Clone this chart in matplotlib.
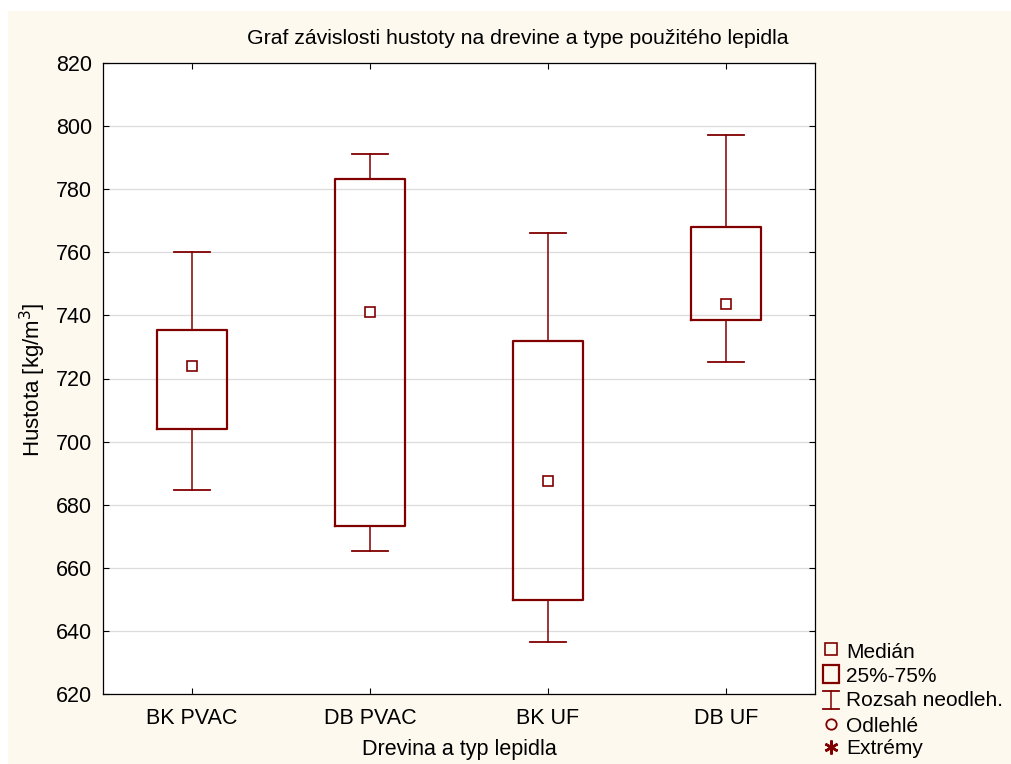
import numpy as np
import matplotlib
matplotlib.use("Agg")
import matplotlib.pyplot as plt
from matplotlib.patches import Rectangle
from matplotlib.lines import Line2D

plt.rcParams['font.family'] = ['Liberation Sans', 'DejaVu Sans']

# data
labels = ["BK PVAC", "DB PVAC", "BK UF", "DB UF"]
median = [724.0, 741.0, 687.5, 743.5]
q1 = [704.0, 673.2, 649.8, 738.5]
q3 = [735.3, 783.3, 731.9, 768.0]
wlo = [684.6, 665.3, 636.6, 725.2]
whi = [760.1, 791.3, 766.1, 797.2]

red = "#800000"
cream = "#fdf9ef"
W, H = 1011., 764.

fig = plt.figure(figsize=(10.11, 7.64), dpi=100)
fig.patch.set_facecolor("white")
fig.patches.append(Rectangle((8/W, 0), 1, 1-11/H, transform=fig.transFigure,
                             facecolor=cream, edgecolor="none", zorder=-10))

ax = fig.add_axes([103/W, 70/H, 712/W, 631/H])
ax.set_facecolor("white")

stats = []
for i in range(len(labels)):
    stats.append(dict(med=median[i], q1=q1[i], q3=q3[i], whislo=wlo[i], whishi=whi[i],
                      mean=median[i], fliers=[], label=labels[i]))

ax.bxp(stats, positions=range(len(labels)), widths=0.39, showmeans=True, showfliers=False,
       boxprops=dict(color=red, linewidth=1.6),
       whiskerprops=dict(color=red, linewidth=1.1),
       capprops=dict(color=red, linewidth=1.3),
       capwidths=0.2,
       medianprops=dict(linewidth=0),
       meanprops=dict(marker="s", markersize=7.8, markerfacecolor="white",
                      markeredgecolor=red, markeredgewidth=1.2))

ax.set_xlim(-0.5, 3.5)
ax.set_ylim(620, 820)
ax.set_yticks(np.arange(620, 821, 20))
ax.set_xticks(range(len(labels)))
ax.set_xticklabels(labels)
ax.yaxis.grid(True, color="#dcdcdc", linewidth=0.9)
ax.set_axisbelow(True)
ax.tick_params(axis="both", direction="in", length=4, width=0.8, labelsize=15.5,
               top=True, right=True, colors="black")
ax.tick_params(axis="y", pad=8)
ax.tick_params(axis="x", pad=10)
for s in ax.spines.values():
    s.set_linewidth(0.9)

fig.text(0.512, 0.950, "Graf závislosti hustoty na drevine a type použitého lepidla",
         ha="center", va="center", fontsize=15.3)
fig.text(0.033, 0.503, "Hustota [kg/m$^3$]", rotation=90, ha="center", va="center",
         fontsize=16)
fig.text(459/W, 1-750/H, "Drevina a typ lepidla", ha="center", va="center",
         fontsize=15.5)

# legend drawn by hand
lx = 831/W
tx = 846/W
baselines = [658, 682.5, 706, 731.5, 754]
names = ["Medián", "25%-75%", "Rozsah neodleh.", "Odlehlé", "Extrémy"]
for b, n in zip(baselines, names):
    fig.text(tx, 1-b/H, n, ha="left", va="baseline", fontsize=15)
tf = fig.transFigure
fig.add_artist(Line2D([lx], [1-648.5/H], marker="s", markersize=8, markerfacecolor="none",
                      markeredgecolor=red, markeredgewidth=1.2, transform=tf))
fig.add_artist(Rectangle((823/W, 1-682.7/H), 15.7/W, 17.7/H, transform=tf,
                         facecolor="none", edgecolor=red, linewidth=1.6))
y0, y1 = 1-709/H, 1-691/H
fig.add_artist(Line2D([lx, lx], [y0, y1], color=red, linewidth=1.1, transform=tf))
fig.add_artist(Line2D([lx-8/W, lx+8/W], [y0, y0], color=red, linewidth=1.3, transform=tf))
fig.add_artist(Line2D([lx-8/W, lx+8/W], [y1, y1], color=red, linewidth=1.3, transform=tf))
fig.add_artist(Line2D([lx], [1-724.3/H], marker="o", markersize=7.5, markerfacecolor="none",
                      markeredgecolor=red, markeredgewidth=1.3, transform=tf))
fig.add_artist(Line2D([lx], [1-747.3/H], marker=(6, 2, 0), markersize=10,
                      markeredgecolor=red, markeredgewidth=1.8, transform=tf))

fig.savefig("out.png", dpi=100, facecolor=fig.get_facecolor())
